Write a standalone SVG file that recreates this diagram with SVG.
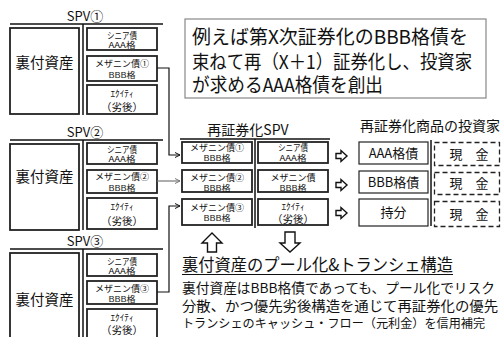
<svg xmlns="http://www.w3.org/2000/svg" width="503" height="337" viewBox="0 0 503 337">
<defs>
<style>
.t{font-family:"Noto Sans CJK JP","Noto Sans",sans-serif;fill:#111;text-anchor:middle}
.l{text-anchor:start}
.box{fill:#fff;stroke:#222;stroke-width:1.8}
.big{fill:#fff;stroke:#222;stroke-width:1.8}
.inv{fill:#fff;stroke:#222;stroke-width:1.2}
.dash{fill:none;stroke:#222;stroke-width:1.3;stroke-dasharray:5 3}
.rule{stroke:#111;stroke-width:1.5;fill:none}
.conn{stroke:#111;stroke-width:1.2;fill:none}
.barrow{fill:#fff;stroke:#111;stroke-width:1.4;stroke-linejoin:miter}
.s9{font-size:8.8px}
.s8{font-size:7.8px}
.s11{font-size:10.5px}
</style>
<marker id="ah" viewBox="0 0 6 6" refX="5.5" refY="3" markerWidth="6" markerHeight="6" markerUnits="userSpaceOnUse" orient="auto">
<path d="M0.5,0.5 L5.5,3 L0.5,5.5" fill="none" stroke="#111" stroke-width="1"/>
</marker>
<marker id="ahg" viewBox="0 0 6 6" refX="5.5" refY="3" markerWidth="6" markerHeight="6" markerUnits="userSpaceOnUse" orient="auto">
<path d="M0.5,0.5 L5.5,3 L0.5,5.5" fill="none" stroke="#777" stroke-width="1"/>
</marker>
</defs>
<rect width="503" height="337" fill="#fff"/>

<!-- SPV 1 -->
<g id="spv1">
<text class="t" x="85" y="21" font-size="13">SPV①</text>
<line class="rule" x1="10" y1="24" x2="163" y2="24"/>
<line class="rule" x1="83" y1="24" x2="83" y2="115"/>
<rect class="big" x="10" y="28" width="69" height="86"/>
<text class="t" x="44.5" y="68" font-size="14.5">裏付資産</text>
<rect class="box" x="87" y="28" width="70" height="22"/>
<text class="t s9" x="122" y="38.5" textLength="30" lengthAdjust="spacingAndGlyphs">シニア債</text>
<text class="t s8" x="122" y="48" textLength="27" lengthAdjust="spacingAndGlyphs">AAA格</text>
<rect class="box" x="87" y="56" width="70" height="25"/>
<text class="t s9" x="122" y="66.5" textLength="54" lengthAdjust="spacingAndGlyphs">メザニン債①</text>
<text class="t s8" x="122" y="78" textLength="27" lengthAdjust="spacingAndGlyphs">BBB格</text>
<rect class="box" x="87" y="85" width="70" height="29"/>
<text class="t s9" x="122" y="96.5" textLength="23" lengthAdjust="spacingAndGlyphs">ｴｸｲﾃｨ</text>
<text class="t s11" x="122" y="110.5">（劣後）</text>
</g>

<!-- SPV 2 -->
<g id="spv2">
<text class="t" x="85" y="137" font-size="13">SPV②</text>
<line class="rule" x1="10" y1="140" x2="163" y2="140"/>
<line class="rule" x1="83" y1="140" x2="83" y2="230"/>
<rect class="big" x="10" y="144" width="69" height="86"/>
<text class="t" x="44.5" y="182" font-size="14.5">裏付資産</text>
<rect class="box" x="87" y="143" width="70" height="21"/>
<text class="t s9" x="122" y="153" textLength="30" lengthAdjust="spacingAndGlyphs">シニア債</text>
<text class="t s8" x="122" y="162" textLength="27" lengthAdjust="spacingAndGlyphs">AAA格</text>
<rect class="box" x="87" y="170" width="70" height="23"/>
<text class="t s9" x="122" y="180" textLength="54" lengthAdjust="spacingAndGlyphs">メザニン債②</text>
<text class="t s8" x="122" y="190.5" textLength="27" lengthAdjust="spacingAndGlyphs">BBB格</text>
<rect class="box" x="87" y="198" width="70" height="31"/>
<text class="t s9" x="122" y="210" textLength="23" lengthAdjust="spacingAndGlyphs">ｴｸｲﾃｨ</text>
<text class="t s11" x="122" y="224.5">（劣後）</text>
</g>

<!-- SPV 3 -->
<g id="spv3">
<text class="t" x="85" y="246" font-size="13">SPV③</text>
<line class="rule" x1="10" y1="249" x2="163" y2="249"/>
<line class="rule" x1="83" y1="249" x2="83" y2="337"/>
<rect class="big" x="10" y="253" width="69" height="90"/>
<text class="t" x="44.5" y="305" font-size="14.5">裏付資産</text>
<rect class="box" x="87" y="254" width="70" height="22"/>
<text class="t s9" x="122" y="264.5" textLength="30" lengthAdjust="spacingAndGlyphs">シニア債</text>
<text class="t s8" x="122" y="274" textLength="27" lengthAdjust="spacingAndGlyphs">AAA格</text>
<rect class="box" x="87" y="281" width="70" height="23"/>
<text class="t s9" x="122" y="291.5" textLength="54" lengthAdjust="spacingAndGlyphs">メザニン債③</text>
<text class="t s8" x="122" y="301.5" textLength="27" lengthAdjust="spacingAndGlyphs">BBB格</text>
<rect class="box" x="87" y="309" width="70" height="31"/>
<text class="t s9" x="122" y="320.5" textLength="23" lengthAdjust="spacingAndGlyphs">ｴｸｲﾃｨ</text>
<text class="t s11" x="122" y="334">（劣後）</text>
</g>

<!-- Note box -->
<g id="note">
<rect x="185" y="19" width="301" height="79" fill="#fff" stroke="#888" stroke-width="1.2"/>
<text class="t l" x="192" y="43.5" font-size="19" textLength="276" lengthAdjust="spacingAndGlyphs">例えば第X次証券化のBBB格債を</text>
<text class="t l" x="192" y="68.5" font-size="19" textLength="280" lengthAdjust="spacingAndGlyphs">束ねて再（X＋1）証券化し、投資家</text>
<text class="t l" x="192" y="91.5" font-size="19" textLength="191" lengthAdjust="spacingAndGlyphs">が求めるAAA格債を創出</text>
</g>

<!-- Re-securitization SPV -->
<g id="respv">
<text class="t" x="248" y="135" font-size="14">再証券化SPV</text>
<line class="rule" x1="180" y1="139" x2="330" y2="139"/>
<line class="rule" x1="255" y1="139" x2="255" y2="228"/>
<rect class="box" x="182" y="142" width="70" height="21"/>
<text class="t s9" x="217" y="150.5" textLength="54" lengthAdjust="spacingAndGlyphs">メザニン債①</text>
<text class="t s8" x="217" y="161" textLength="27" lengthAdjust="spacingAndGlyphs">BBB格</text>
<rect class="box" x="182" y="170" width="70" height="22"/>
<text class="t s9" x="217" y="180.5" textLength="54" lengthAdjust="spacingAndGlyphs">メザニン債②</text>
<text class="t s8" x="217" y="191" textLength="27" lengthAdjust="spacingAndGlyphs">BBB格</text>
<rect class="box" x="182" y="199" width="70" height="26"/>
<text class="t s9" x="217" y="210.5" textLength="54" lengthAdjust="spacingAndGlyphs">メザニン債③</text>
<text class="t s8" x="217" y="221" textLength="27" lengthAdjust="spacingAndGlyphs">BBB格</text>
<rect class="box" x="258" y="142" width="70" height="21"/>
<text class="t s9" x="293" y="150.5" textLength="30" lengthAdjust="spacingAndGlyphs">シニア債</text>
<text class="t s8" x="293" y="161" textLength="27" lengthAdjust="spacingAndGlyphs">AAA格</text>
<rect class="box" x="258" y="170" width="70" height="22"/>
<text class="t s9" x="293" y="180.5" textLength="45" lengthAdjust="spacingAndGlyphs">メザニン債</text>
<text class="t s8" x="293" y="191" textLength="27" lengthAdjust="spacingAndGlyphs">BBB格</text>
<rect class="box" x="258" y="199" width="70" height="26"/>
<text class="t s9" x="293" y="210" textLength="23" lengthAdjust="spacingAndGlyphs">ｴｸｲﾃｨ</text>
<text class="t s11" x="293" y="223">（劣後）</text>
</g>

<!-- Investors -->
<g id="investors">
<text class="t" x="430" y="131" font-size="14">再証券化商品の投資家</text>
<line class="rule" x1="431" y1="140" x2="431" y2="226"/>
<rect class="inv" x="359" y="142" width="69" height="22"/>
<text class="t" x="393.5" y="157.5" font-size="13">AAA格債</text>
<rect class="inv" x="359" y="171" width="69" height="22"/>
<text class="t" x="393.5" y="186.5" font-size="13">BBB格債</text>
<rect class="inv" x="359" y="199" width="69" height="27"/>
<text class="t" x="393.5" y="217" font-size="13">持分</text>
<rect class="dash" x="434.5" y="142.5" width="65" height="23"/>
<text class="t" x="469" y="159" font-size="13">現　金</text>
<rect class="dash" x="434.5" y="172.5" width="65" height="22"/>
<text class="t" x="469" y="188" font-size="13">現　金</text>
<rect class="dash" x="434.5" y="201.5" width="65" height="25"/>
<text class="t" x="469" y="218.5" font-size="13">現　金</text>
</g>

<!-- Connectors -->
<g id="connectors">
<path class="conn" d="M157,68 H169 V155 H180" marker-end="url(#ah)"/>
<path d="M157,181 H180" fill="none" stroke="#777" stroke-width="1.2" marker-end="url(#ahg)"/>
<path class="conn" d="M157,292 H169 V206 H180" marker-end="url(#ah)"/>
<polygon class="barrow" points="336,153.5 341,153.5 341,150.5 347,156 341,161.5 341,158.5 336,158.5"/>
<polygon class="barrow" points="336,182.5 341,182.5 341,179.5 347,185 341,190.5 341,187.5 336,187.5"/>
<polygon class="barrow" points="336,210.5 341,210.5 341,207.5 347,213 341,218.5 341,215.5 336,215.5"/>
<polygon class="barrow" points="212,233 222,243 216.5,243 216.5,252 207.5,252 207.5,243 202,243"/>
<polygon class="barrow" points="285,232 295,232 295,243 300,243 290,252 280,243 285,243"/>
</g>

<!-- Explanation -->
<g id="explain">
<text class="t l" x="182" y="271" font-size="17" textLength="271" lengthAdjust="spacingAndGlyphs">裏付資産のプール化&amp;トランシェ構造</text>
<line x1="182" y1="274.5" x2="453" y2="274.5" stroke="#111" stroke-width="1.2"/>
<text class="t l" x="182" y="292.5" font-size="13.5" textLength="313" lengthAdjust="spacingAndGlyphs">裏付資産はBBB格債であっても、プール化でリスク</text>
<text class="t l" x="182" y="310.5" font-size="14" textLength="316" lengthAdjust="spacingAndGlyphs">分散、かつ優先劣後構造を通じて再証券化の優先</text>
<text class="t l" x="182" y="328" font-size="12.2" textLength="303" lengthAdjust="spacingAndGlyphs">トランシェのキャッシュ・フロー（元利金）を信用補完</text>
</g>
</svg>
